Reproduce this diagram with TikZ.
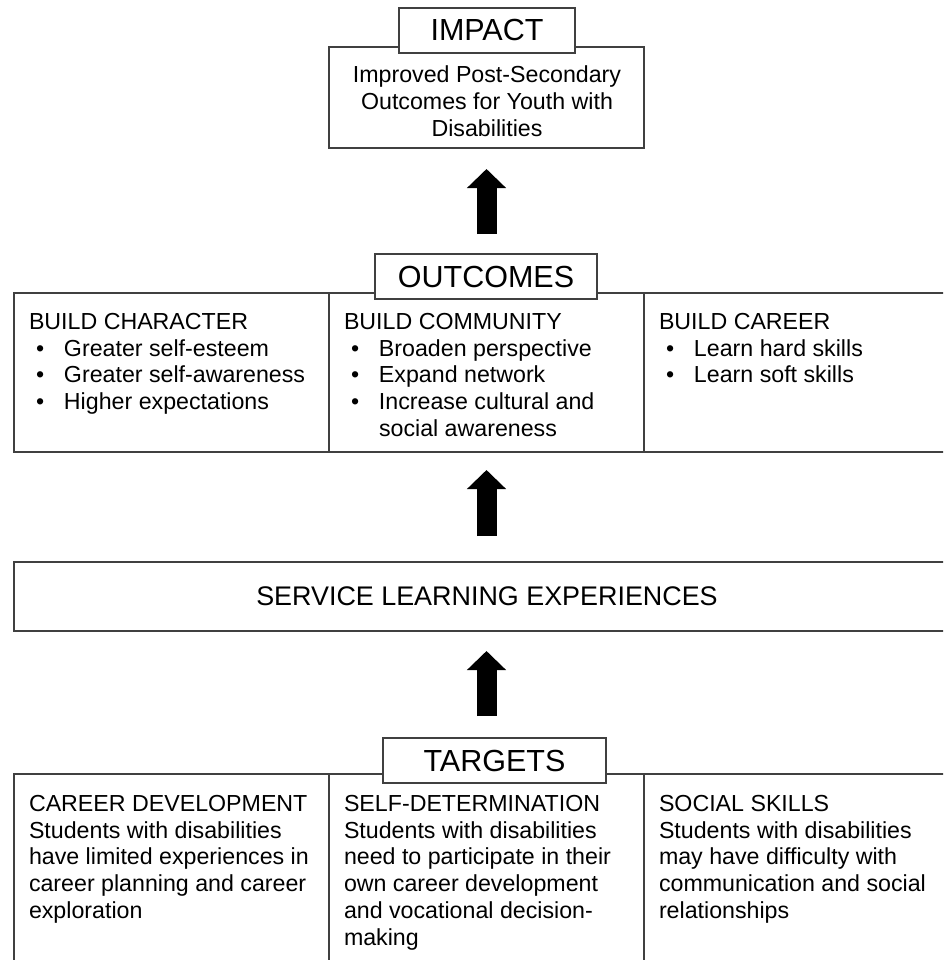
\documentclass[tikz,border=0pt]{standalone}
\usepackage{fontspec}
\setmainfont{Liberation Sans}
\usetikzlibrary{arrows.meta,calc}
\newcommand{\bulmark}{\makebox[35pt][l]{\hspace{7pt}\textbullet}}
\begin{document}
\begin{tikzpicture}[x=1pt,y=-1pt,
  box/.style={draw=black!75, line width=1.3pt, inner sep=0pt, outer sep=0pt, rectangle},
  headbox/.style={box, fill=white, minimum height=45pt, font=\fontsize{30.5}{34}\selectfont},
  body/.style={inner sep=0pt, outer sep=0pt, align=left, anchor=north west, font=\fontsize{23.2}{26.8}\selectfont},
  bigarrow/.style={line width=20pt, black, -{Triangle[width=38pt,length=19pt]}},
  divider/.style={draw=black!75, line width=1.3pt}]
\useasboundingbox (0,0) rectangle (943,960);
\fill[white] (0,0) rectangle (943,960);
\clip (0,0) rectangle (943,960);

% IMPACT
\node[box, minimum width=315pt, minimum height=101pt, anchor=north west] (impact) at (329,47) {};
\node[headbox, minimum width=176pt] (imphead) at (487,30.5) {IMPACT};
\node[body, align=center, anchor=north] (imptxt) at (487,66) {Improved Post-Secondary\\Outcomes for Youth with\\Disabilities};

% OUTCOMES
\node[box, minimum width=946pt, minimum height=159pt, anchor=north west] (outbox) at (14,293) {};
\draw[divider] (outbox.north -| impact.west) -- (outbox.south -| impact.west);
\draw[divider] (outbox.north -| impact.east) -- (outbox.south -| impact.east);
\node[headbox, minimum width=222pt] (outhead) at (486,276.5) {OUTCOMES};
\node[body] (oc1) at (29,313) {BUILD CHARACTER\\\bulmark Greater self-esteem\\\bulmark Greater self-awareness\\\bulmark Higher expectations};
\node[body] (oc2) at (344,313) {BUILD COMMUNITY\\\bulmark Broaden perspective\\\bulmark Expand network\\\bulmark Increase cultural and\\\hspace*{35pt}social awareness};
\node[body] (oc3) at (659,313) {BUILD CAREER\\\bulmark Learn hard skills\\\bulmark Learn soft skills};

% SERVICE
\node[box, minimum width=946pt, minimum height=69pt, anchor=north west, font=\fontsize{26.9}{30}\selectfont] (svc) at (14,562) {SERVICE LEARNING EXPERIENCES};

% TARGETS
\node[box, minimum width=946pt, minimum height=220pt, anchor=north west] (tgtbox) at (14,774) {};
\draw[divider] (tgtbox.north -| impact.west) -- (tgtbox.south -| impact.west);
\draw[divider] (tgtbox.north -| impact.east) -- (tgtbox.south -| impact.east);
\node[headbox, minimum width=223pt] (tgthead) at (494.5,760.5) {TARGETS};
\node[body] (tg1) at (29,795) {CAREER DEVELOPMENT\\Students with disabilities\\have limited experiences in\\career planning and career\\exploration};
\node[body] (tg2) at (344,795) {SELF-DETERMINATION\\Students with disabilities\\need to participate in their\\own career development\\and vocational decision-\\making};
\node[body] (tg3) at (659,795) {SOCIAL SKILLS\\Students with disabilities\\may have difficulty with\\communication and social\\relationships};

% ARROWS
\draw[bigarrow, shorten <=20pt, shorten >=21pt] (outhead.north -| impact.south) -- (impact.south);
\draw[bigarrow, shorten <=26pt, shorten >=18pt] (svc.north -| impact.south) -- (outbox.south -| impact.south);
\draw[bigarrow, shorten <=22pt, shorten >=20pt] (tgthead.north -| impact.south) -- (svc.south -| impact.south);
\end{tikzpicture}
\end{document}
